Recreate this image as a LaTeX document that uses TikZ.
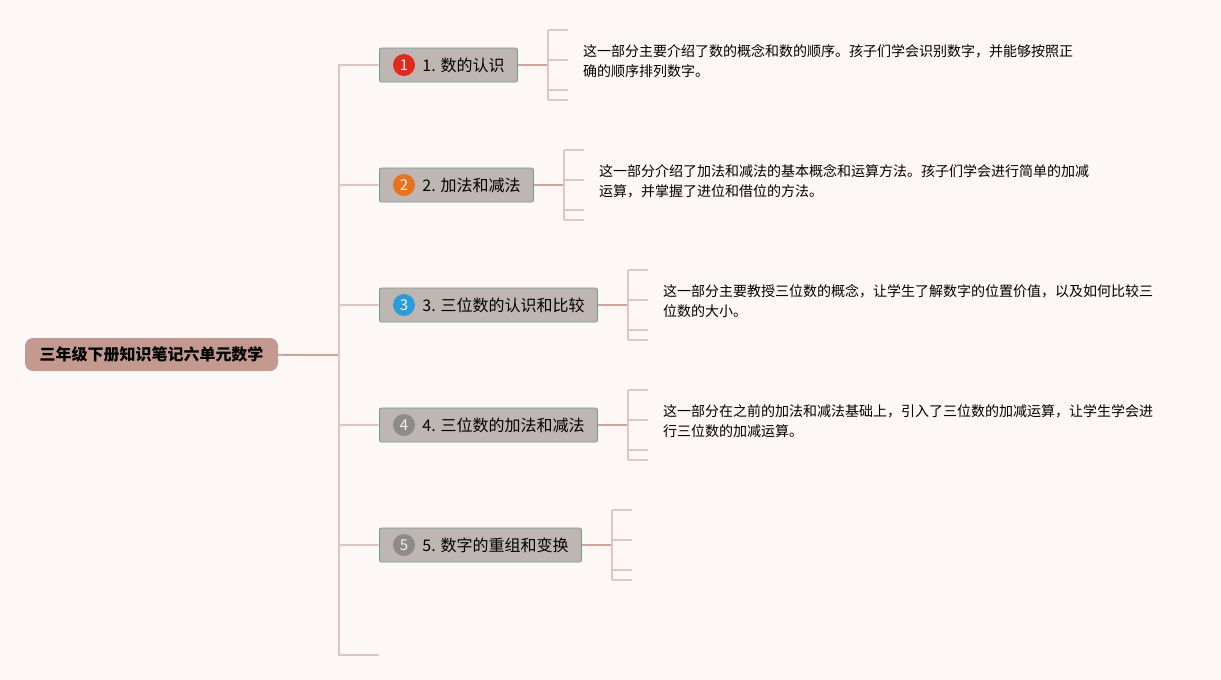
\documentclass[tikz,border=0pt]{standalone}
\usepackage{fontspec}
\setmainfont{Noto Sans CJK SC}
\definecolor{bgpink}{HTML}{FDF7F6}
\definecolor{rootrose}{HTML}{C49A90}
\definecolor{boxgrey}{HTML}{BFB6B4}
\definecolor{boxedge}{HTML}{6F9F8C}
\definecolor{twigcol}{HTML}{E0C6C0}
\definecolor{stemcol}{HTML}{C9A49C}
\definecolor{red1}{HTML}{E02A1B}
\definecolor{orange2}{HTML}{E8721F}
\definecolor{blue3}{HTML}{2B9CD8}
\definecolor{grey45}{HTML}{8E8B8A}

\begin{document}
\begin{tikzpicture}[x=1pt,y=-1pt,
	root/.style={fill=rootrose,rounded corners=8pt,minimum width=253pt,minimum height=33pt,inner sep=0,font=\fontsize{16}{16}\selectfont\bfseries},
	topic/.style={draw=boxedge,fill=boxgrey,rounded corners=2pt,line width=0.8pt,anchor=west,minimum height=34pt,inner xsep=13pt,inner ysep=0pt,font=\fontsize{16}{16}\selectfont},
	badge/.style={circle,fill=#1,minimum size=22pt,inner sep=0,text=white!92!gray,font=\fontsize{15}{15}\selectfont},
	note/.style={inner sep=0,anchor=west,align=left,font=\fontsize{14}{20}\selectfont},
	branch/.style={draw=twigcol,line width=1.5pt},
	stemline/.style={draw=stemcol,line width=1.8pt}]
	% Background
	\fill[bgpink] (0,0) rectangle (1221,680);
	% Root and hub
	\node[root] (root) at (151.5,354.5) {三年级下册知识笔记六单元数学};
	\coordinate (hub) at (339,355);
	\coordinate (tail) at (379,655);
	% Topics
	\node[topic] (b1) at (379,65) {\hspace{30pt}1. 数的认识};
	\node[topic] (b2) at (379,185) {\hspace{30pt}2. 加法和减法};
	\node[topic] (b3) at (379,305) {\hspace{30pt}3. 三位数的认识和比较};
	\node[topic] (b4) at (379,425) {\hspace{30pt}4. 三位数的加法和减法};
	\node[topic] (b5) at (379,545) {\hspace{30pt}5. 数字的重组和变换};
	% Badges
	\node[badge=red1] (n1) at ([xshift=25pt]b1.west) {1};
	\node[badge=orange2] (n2) at ([xshift=25pt]b2.west) {2};
	\node[badge=blue3] (n3) at ([xshift=25pt]b3.west) {3};
	\node[badge=grey45] (n4) at ([xshift=25pt]b4.west) {4};
	\node[badge=grey45] (n5) at ([xshift=25pt]b5.west) {5};
	% Trunk
	\draw[stemline] (root) -- (hub);
	\foreach \i in {1,...,5}
		\draw[branch] (b\i.west) -| (hub);
	\draw[branch] (tail) -| (hub);
	% Brackets
	\foreach \i in {1,...,5} {
		\coordinate (k\i) at ([xshift=30pt]b\i.east);
		\draw[stemline] (b\i.east) -- (k\i);
		\draw[branch] ([yshift=35pt]k\i) -- ([yshift=-35pt]k\i);
		\foreach \dy in {35,5,-25,-35}
			\draw[branch] ([yshift=\dy pt]k\i) -- ++(20,0);
	}
	% Notes
	\node[note] (d1) at ([xshift=35pt,yshift=4pt]k1) {这一部分主要介绍了数的概念和数的顺序。孩子们学会识别数字，并能够按照正\\确的顺序排列数字。};
	\node[note] (d2) at ([xshift=35pt,yshift=4pt]k2) {这一部分介绍了加法和减法的基本概念和运算方法。孩子们学会进行简单的加减\\运算，并掌握了进位和借位的方法。};
	\node[note] (d3) at ([xshift=35pt,yshift=4pt]k3) {这一部分主要教授三位数的概念，让学生了解数字的位置价值，以及如何比较三\\位数的大小。};
	\node[note] (d4) at ([xshift=35pt,yshift=4pt]k4) {这一部分在之前的加法和减法基础上，引入了三位数的加减运算，让学生学会进\\行三位数的加减运算。};
\end{tikzpicture}
\end{document}
